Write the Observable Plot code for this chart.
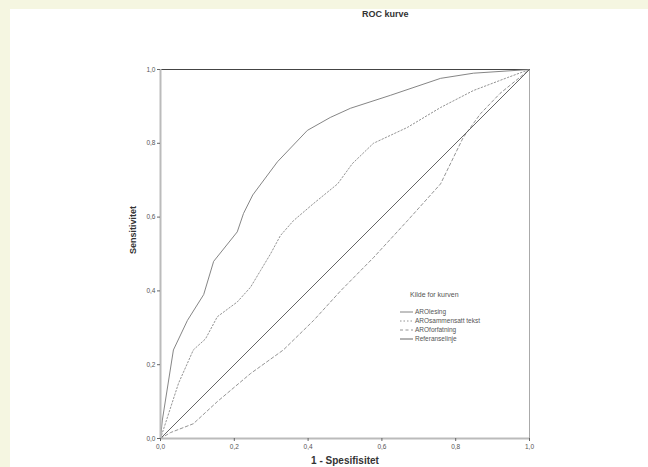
<!DOCTYPE html>
<html><head><meta charset="utf-8">
<script src="https://cdn.jsdelivr.net/npm/d3@7"></script>
<script src="https://cdn.jsdelivr.net/npm/@observablehq/plot@0.6"></script>
<style>
body{margin:0;background:#f5f6e1;font-family:Arial,"Liberation Sans",sans-serif;}
#wrap{position:absolute;left:0;top:0;width:648px;height:467px;}
#panel{position:absolute;left:10px;top:9px;width:638px;height:458px;background:#fff;}
#title{position:absolute;top:9px;left:362px;font-size:9px;font-weight:bold;color:#333;}
#plot{position:absolute;left:0;top:0;}
#legend{position:absolute;left:398px;top:288px;color:#555;}
</style></head><body>
<div id="wrap"><div id="panel"></div><div id="plot"></div><div id="title">ROC kurve</div><div id="legend"></div></div>
<script>
const seriesNames = ["AROlesing","AROsammensatt tekst","AROforfatning","Referanselinje"];
const legendTitle = "Kilde for kurven";
const lesingX = [0,0.005,0.035,0.073,0.117,0.144,0.208,0.225,0.25,0.317,0.398,0.46,0.515,0.623,0.759,0.848,1];
const lesingY = [0,0.05,0.24,0.32,0.39,0.48,0.56,0.61,0.66,0.75,0.835,0.87,0.895,0.93,0.976,0.99,1];
const sammX = [0,0.049,0.089,0.122,0.154,0.208,0.244,0.271,0.298,0.325,0.36,0.415,0.48,0.52,0.577,0.669,0.759,0.848,0.94,1];
const sammY = [0,0.15,0.24,0.27,0.33,0.37,0.41,0.455,0.50,0.55,0.59,0.637,0.69,0.745,0.80,0.843,0.897,0.943,0.978,1];
const forfX = [0,0.027,0.089,0.154,0.244,0.333,0.415,0.488,0.577,0.669,0.759,0.82,0.867,0.92,1];
const forfY = [0,0.016,0.04,0.10,0.176,0.24,0.32,0.40,0.49,0.59,0.69,0.815,0.88,0.935,1];
const refX = [0,1];
const refY = [0,1];
const ticks = [0,0.2,0.4,0.6,0.8,1.0];

const toRows = (xs, ys) => xs.map((x,i)=>({x, y: ys[i]}));
const styles = [
  {stroke:"#777", dash:null},
  {stroke:"#888", dash:"1.5,2"},
  {stroke:"#888", dash:"3,2.5"},
  {stroke:"#555", dash:null}
];
const datasets = [toRows(lesingX,lesingY), toRows(sammX,sammY), toRows(forfX,forfY), toRows(refX,refY)];
const fmt = d => d.toFixed(1).replace(".", ",");

const chart = Plot.plot({
  width: 648, height: 467,
  marginLeft: 160, marginRight: 119, marginTop: 69, marginBottom: 29,
  style: {background: "transparent", fontSize: "6.5px", fontFamily: "Arial, Liberation Sans, sans-serif", color: "#555"},
  x: {domain: [0,1], ticks: ticks, tickFormat: fmt, label: null},
  y: {domain: [0,1], ticks: ticks, tickFormat: fmt, label: null},
  marks: [
    Plot.ruleX([1], {stroke: "#aaa", strokeWidth: 1}),
    Plot.ruleY([1], {stroke: "#444", strokeWidth: 1.2}),
    ...datasets.map((d,i) => Plot.line(d, {x:"x", y:"y", stroke: styles[i].stroke, strokeWidth: 0.9, strokeDasharray: styles[i].dash})),
    Plot.ruleX([0], {stroke: "#bbb", strokeWidth: 2}),
    Plot.ruleY([0], {stroke: "#bbb", strokeWidth: 2}),
    Plot.axisX({ticks, tickFormat: fmt, tickSize: 3, tickPadding: 3, stroke: "#666", label: null}),
    Plot.axisY({ticks, tickFormat: fmt, tickSize: 3, tickPadding: 2, stroke: "#666", label: null}),
    Plot.text(["1 - Spesifisitet"], {frameAnchor: "bottom", dy: 25, fontSize: 10, fontWeight: "bold", fill: "#333"}),
    Plot.text(["Sensitivitet"], {frameAnchor: "left", dx: -27, rotate: -90, fontSize: 9, fontWeight: "bold", fill: "#333"})
  ]
});
document.getElementById("plot").appendChild(chart);

// legend
const lg = d3.select("#legend").append("svg").attr("width", 110).attr("height", 60);
lg.append("text").attr("x", 12).attr("y", 9).text(legendTitle).attr("fill","#555").style("font-size","7px");
seriesNames.forEach((n,i) => {
  const y = 26 + i*9;
  lg.append("line").attr("x1",2).attr("x2",15).attr("y1",y-2).attr("y2",y-2)
    .attr("stroke", styles[i].stroke).attr("stroke-width",0.9).attr("stroke-dasharray", styles[i].dash);
  lg.append("text").attr("x",17).attr("y",y).text(n).attr("fill","#555").style("font-size","6.5px");
});
</script>
</body></html>
